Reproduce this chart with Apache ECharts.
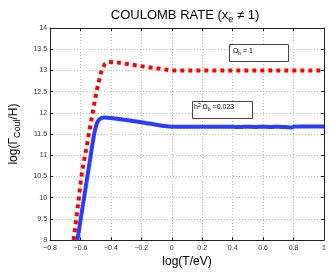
<!DOCTYPE html>
<html><head><meta charset="utf-8">
<script src="https://cdn.jsdelivr.net/npm/echarts@6/dist/echarts.min.js"></script>
<style>html,body{margin:0;padding:0;background:#fff}#c{width:329px;height:273px}</style>
</head><body><div id="c"></div>
<script>
// x ticks
const xTicks = [-0.8, -0.6, -0.4, -0.2, 0, 0.2, 0.4, 0.6, 0.8, 1];
const yTicks = [9, 9.5, 10, 10.5, 11, 11.5, 12, 12.5, 13, 13.5, 14];
// Omega_b = 1 (red dotted)
const redX = [-0.645, -0.59, -0.555, -0.525, -0.495, -0.465, -0.44, -0.42, -0.38, -0.2, 0, 0.2, 0.4, 0.6, 0.8, 1];
const redY = [9.0, 10.6, 11.3, 11.9, 12.5, 12.95, 13.15, 13.2, 13.2, 13.1, 13.0, 13.0, 13.0, 13.0, 13.0, 13.0];
// h0^2 Omega_b = 0.023 (blue solid)
const blueX = [-0.62, -0.526, -0.51, -0.495, -0.48, -0.46, -0.44, -0.4, -0.2, 0, 0.2, 0.4, 0.45, 0.5, 0.55, 0.6, 0.65, 0.7, 0.75, 0.79, 0.8, 0.85, 0.9, 1];
const blueY = [9.0, 11.15, 11.5, 11.72, 11.83, 11.88, 11.89, 11.88, 11.78, 11.67, 11.67, 11.67, 11.665, 11.675, 11.665, 11.675, 11.665, 11.675, 11.665, 11.655, 11.675, 11.68, 11.68, 11.68];

const fmt = v => { const s = String(Math.round(v*10)/10); return s.replace('-', '\u2212'); };
const chart = echarts.init(document.getElementById('c'), null, {renderer: 'canvas'});
const axisCol = '#222';
const zip = (a, b) => a.map((v, i) => [v, b[i]]);
chart.setOption({
  animation: false,
  title: {
    text: '{t|COULOMB RATE (x}{s|e}{t| \u2260 1)}',
    left: 180, textAlign: 'center', top: 2,
    textStyle: {fontWeight: 'normal', rich: {
      t: {fontFamily: 'Liberation Sans', fontSize: 13, fontWeight: 'normal', color: '#000'},
      s: {fontFamily: 'Liberation Sans', fontSize: 9, fontWeight: 'normal', color: '#000', padding: [8,0,0,0]}
    }}
  },
  grid: {left: 40, right: 5, top: 28, bottom: 25},
  xAxis: [{
    type: 'value', min: -0.8, max: 1, interval: 0.2,
    name: 'log(T/eV)', nameLocation: 'middle', nameGap: 15,
    nameTextStyle: {fontFamily: 'Liberation Sans', fontSize: 12, color: '#000'},
    axisLine: {onZero: false, lineStyle: {color: axisCol, width: 1}},
    axisTick: {inside: true, length: 3, lineStyle: {color: axisCol}},
    axisLabel: {formatter: fmt, fontFamily: 'Liberation Sans', fontSize: 7, color: '#333', margin: 4},
    splitLine: {show: true, lineStyle: {color: '#bbb', type: [1, 2], width: 1}}
  }, {
    type: 'value', min: -0.8, max: 1, interval: 0.2, position: 'top',
    axisLine: {show: true, onZero: false, lineStyle: {color: axisCol}},
    axisTick: {show: true, inside: true, length: 3, lineStyle: {color: axisCol}},
    axisLabel: {show: false}, splitLine: {show: false}
  }],
  yAxis: [{
    type: 'value', min: 9, max: 14, interval: 0.5,
    name: '{t|log(\u0393}{s|Coul}{t|/H)}', nameLocation: 'middle', nameGap: 24, nameRotate: 90,
    nameTextStyle: {rich: {
      t: {fontFamily: 'Liberation Sans', fontSize: 12, color: '#000'},
      s: {fontFamily: 'Liberation Sans', fontSize: 9, color: '#000', padding: [8,0,0,0]}
    }},
    axisLine: {show: true, onZero: false, lineStyle: {color: axisCol, width: 1}},
    axisTick: {show: true, inside: true, length: 3, lineStyle: {color: axisCol}},
    axisLabel: {formatter: v => String(v), fontFamily: 'Liberation Sans', fontSize: 7, color: '#333', margin: 3},
    splitLine: {show: true, lineStyle: {color: '#bbb', type: [1, 2], width: 1}}
  }, {
    type: 'value', min: 9, max: 14, interval: 0.5, position: 'right',
    axisLine: {show: true, onZero: false, lineStyle: {color: axisCol}},
    axisTick: {show: true, inside: true, length: 3, lineStyle: {color: axisCol}},
    axisLabel: {show: false}, splitLine: {show: false}
  }],
  series: [{
    type: 'line', name: 'Omega_b = 1', data: zip(redX, redY), showSymbol: false, symbol: 'none',
    clip: true,
    lineStyle: {color: '#ff0000', width: 4, type: [4, 4], cap: 'butt'}
  }, {
    type: 'line', name: 'h0^2 Omega_b = 0.023', data: zip(blueX, blueY), showSymbol: false, symbol: 'none',
    clip: true, smooth: 0.2,
    lineStyle: {color: '#2b3cff', width: 4}
  }],
  graphic: [
    {type: 'rect', shape: {x: 229.5, y: 44.5, width: 59, height: 17}, style: {fill: '#fff', stroke: '#444', lineWidth: 1}, z: 100},
    {type: 'text', x: 233, y: 47, z: 101, style: {
      text: '{t|\u03A9}{s|b}{t| = 1}', rich: {
        t: {fontFamily: 'Liberation Sans', fontSize: 7, fill: '#000'},
        s: {fontFamily: 'Liberation Sans', fontSize: 5, fill: '#000', padding: [4,0,0,0]}
      }}},
    {type: 'rect', shape: {x: 192.5, y: 101.5, width: 60, height: 17}, style: {fill: '#fff', stroke: '#444', lineWidth: 1}, z: 100},
    {type: 'text', x: 194, y: 103, z: 101, style: {
      text: '{t|h}{p|2}{t|\u00A0\u03A9}{s|b}{t| =0.023}', rich: {
        t: {fontFamily: 'Liberation Sans', fontSize: 7, fill: '#000'},
        p: {fontFamily: 'Liberation Sans', fontSize: 5, fill: '#000', padding: [0,0,4,0]},
        s: {fontFamily: 'Liberation Sans', fontSize: 5, fill: '#000', padding: [4,0,0,0]}
      }}}
  ]
});
</script></body></html>
